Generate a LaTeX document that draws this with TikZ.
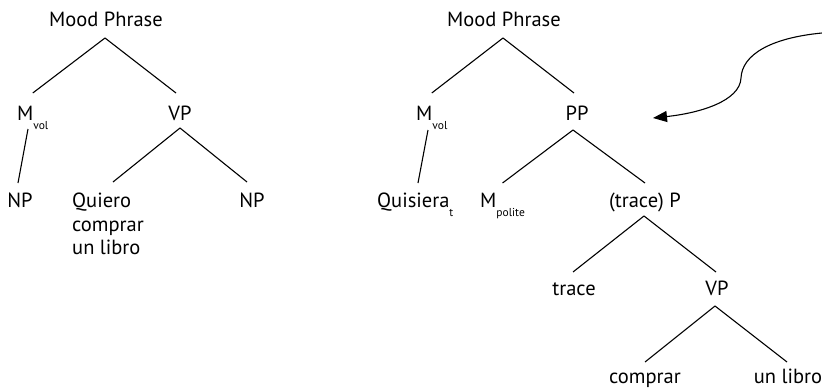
\documentclass[tikz,border=0pt]{standalone}
\usepackage{fontspec}
\setmainfont{PT Sans}
\usetikzlibrary{calc,arrows.meta}

% subscript set small and dropped below the baseline
\newcommand\lowsub[1]{\raisebox{-9pt}{\fontsize{11.5}{11.5}\selectfont #1}}

\tikzset{
  lab/.style={font=\fontsize{20.5}{20.5}\selectfont, inner sep=0pt, anchor=base},
  labw/.style={lab, anchor=base west},
  branch/.style={line width=1.1pt, black},
  movearrow/.style={line width=1.1pt, -{Triangle[length=14pt,width=11pt]}}
}

\begin{document}
\begin{tikzpicture}[x=1pt,y=-1pt]
\useasboundingbox (0,0) rectangle (822,388);

% ---- left tree ----
\node[lab]  (mpA)  at (106,26)  {Mood Phrase};
\node[labw] (mvA)  at (17,120)  {M\lowsub{vol}};
\node[lab]  (vpA)  at (180,120) {VP};
\node[lab]  (npA)  at (20,207)  {NP};
\node[labw] (qA)   at (72,207)  {Quiero};
\node[labw] (qB)   at (72,231)  {comprar};
\node[labw] (qC)   at (72,254)  {un libro};
\node[lab]  (npB)  at (252,207) {NP};

\draw[branch] ($(mpA.base)+(-1,12)$) -- ($(mvA.base)+(0,-27)$);
\draw[branch] ($(mpA.base)+(-1,12)$) -- ($(vpA.base)+(-4,-27)$);
\draw[branch] ($(mvA.base west)+(11,9)$) -- ($(npA.base)+(-2,-24)$);
\draw[branch] ($(vpA.base)+(0,8)$) -- ($(qA.base west)+(41,-25)$);
\draw[branch] ($(vpA.base)+(0,8)$) -- ($(npB.base)+(-5,-25)$);

% ---- right tree ----
\node[lab]  (mpB)  at (504,26)  {Mood Phrase};
\node[labw] (mvB)  at (416,120) {M\lowsub{vol}};
\node[lab]  (pp)   at (577,120) {PP};
\node[labw] (quis) at (377,207) {Quisiera\lowsub{t}};
\node[labw] (mpol) at (480,207) {M\lowsub{polite}};
\node[lab]  (trP)  at (645,207) {(trace) P};
\node[lab]  (tr)   at (574,295) {trace};
\node[lab]  (vpB)  at (717,295) {VP};
\node[lab]  (comp) at (645,383) {comprar};
\node[lab]  (unl)  at (788,383) {un libro};

\draw[branch] ($(mpB.base)+(-1,12)$) -- ($(mvB.base)+(0,-27)$);
\draw[branch] ($(mpB.base)+(-1,12)$) -- ($(pp.base)+(-3,-27)$);
\draw[branch] ($(mvB.base west)+(12,10)$) -- ($(quis.base west)+(41,-24)$);
\draw[branch] ($(pp.base)+(-4,10)$) -- ($(mpol.base)+(0,-24)$);
\draw[branch] ($(pp.base)+(-4,10)$) -- ($(trP.base)+(0,-24)$);
\draw[branch] ($(trP.base)+(-1,9)$) -- ($(tr.base)+(-1,-23)$);
\draw[branch] ($(trP.base)+(-1,9)$) -- ($(vpB.base)+(-1,-23)$);
\draw[branch] ($(vpB.base)+(-2,11)$) -- ($(comp.base)+(0,-21)$);
\draw[branch] ($(vpB.base)+(-2,11)$) -- ($(unl.base)+(-1,-21)$);

% ---- movement arrow into PP ----
\coordinate (arrTail) at (822,33);
\coordinate (arrTip)  at (653,118);
\draw[movearrow] (arrTail) .. controls (770,38) and (742,55) .. (741,78)
                           .. controls (740,101) and (700,113) .. (arrTip);
\end{tikzpicture}
\end{document}
